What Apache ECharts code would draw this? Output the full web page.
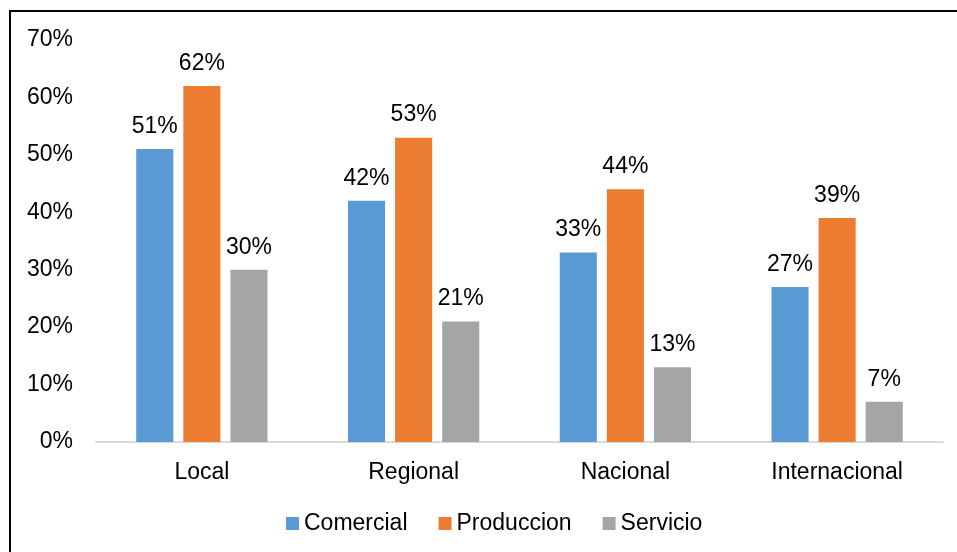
<!DOCTYPE html>
<html><head><meta charset="utf-8">
<script src="https://cdn.jsdelivr.net/npm/echarts@6/dist/echarts.min.js"></script>
<style>
html,body{margin:0;padding:0;background:#fff;}
#frame{position:absolute;left:9px;top:10px;width:1000px;height:600px;border:2px solid #000;box-sizing:border-box;}
#c{position:absolute;left:0;top:0;width:957px;height:552px;}
</style></head><body>
<div id="frame"></div>
<div id="c"></div>
<script>
const categories = ['Local','Regional','Nacional','Internacional'];
const seriesNames = ['Comercial','Produccion','Servicio'];
const comercial = [51,42,33,27];
const produccion = [62,53,44,39];
const servicio = [30,21,13,7];
const yTicks = [0,10,20,30,40,50,60,70];
const colors = ['#5B9BD5','#ED7D31','#A5A5A5'];
const font = 'Liberation Sans, Arial, sans-serif';
const fs = 23;
const chart = echarts.init(document.getElementById('c'));
const mk = (name, data, color) => ({
  name, type:'bar', data, barGap:'27%', barCategoryGap:'38%',
  itemStyle:{color},
  label:{show:true, position:'top', distance:11, formatter:'{c}%', color:'#000', fontSize:fs, fontFamily:font}
});
chart.setOption({
  animation:false,
  color:colors,
  grid:{left:96,right:14,top:40,bottom:110,containLabel:false},
  legend:{bottom:12,left:281,itemWidth:13,itemHeight:13,itemGap:31,icon:'rect',
    textStyle:{fontSize:fs,fontFamily:font,color:'#000',padding:[0,0,0,0]}},
  xAxis:{type:'category',data:categories,
    axisLine:{lineStyle:{color:'#D9D9D9',width:2}},axisTick:{show:false},
    axisLabel:{fontSize:fs,fontFamily:font,color:'#000',margin:19}},
  yAxis:{type:'value',min:yTicks[0],max:yTicks[yTicks.length-1],interval:10,
    splitLine:{show:false},axisLine:{show:false},axisTick:{show:false},
    axisLabel:{formatter:'{value}%',fontSize:fs,fontFamily:font,color:'#000',margin:23}},
  series:[mk(seriesNames[0],comercial,colors[0]),mk(seriesNames[1],produccion,colors[1]),mk(seriesNames[2],servicio,colors[2])]
});
</script></body></html>
